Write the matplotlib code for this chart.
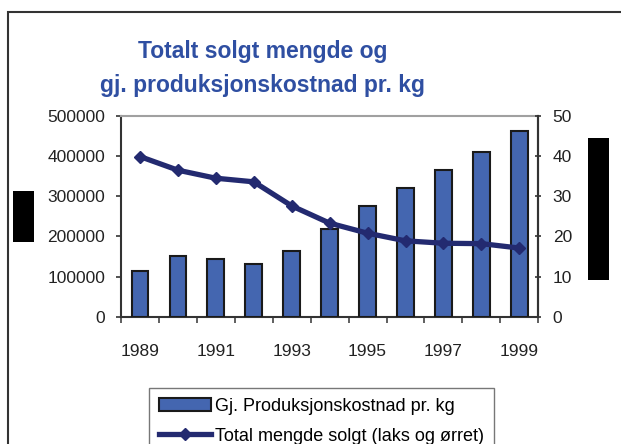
import matplotlib
matplotlib.use("Agg")
import matplotlib.pyplot as plt
from matplotlib.patches import Rectangle
from matplotlib.lines import Line2D
import numpy as np

plt.rcParams['font.family'] = ['Liberation Sans', 'DejaVu Sans']

# data
years = [1989, 1990, 1991, 1992, 1993, 1994, 1995, 1996, 1997, 1998, 1999]
bar_values = [114600, 151000, 144500, 131000, 164000, 217700,
              275700, 320600, 365000, 409500, 461800]
line_values = [39.9, 36.5, 34.5, 33.6, 27.6, 23.3, 20.8, 18.9, 18.3, 18.2, 17.1]
left_ticks = [0, 100000, 200000, 300000, 400000, 500000]
right_ticks = [0, 10, 20, 30, 40, 50]
bar_label = 'Gj. Produksjonskostnad pr. kg'
line_label = 'Total mengde solgt (laks og ørret)'

W, H = 621, 444
bar_color = '#4466b0'
line_color = '#232a70'
title_color = '#2f4fa2'

fig = plt.figure(figsize=(W / 100, H / 100), dpi=100)

# outer frame (cropped on right and bottom)
fig.add_artist(Rectangle((7.5 / W, -0.2), 1.5, 1 - 12 / H + 0.2,
                         transform=fig.transFigure, fill=False,
                         ec='#333333', lw=1.5, clip_on=False))

ax = fig.add_axes([121 / W, 1 - 316.7 / H, (538.3 - 121) / W, (316.7 - 116) / H])
x = np.arange(len(years))
ax.bar(x, bar_values, width=0.44, color=bar_color, edgecolor='#1a1a1a',
       lw=1.5, zorder=3)
ax.set_xlim(-0.5, len(years) - 0.5)
ax.set_ylim(0, 500000)
ax.set_yticks(left_ticks)
ax.set_yticklabels([str(v) for v in left_ticks], fontsize=12.5, color='#222222')
ax.tick_params(axis='y', direction='out', length=3.8, width=1.2,
               color='#333333', pad=7.7)

# x ticks at category boundaries, labels for odd years
ax.set_xticks(np.arange(-0.5, len(years), 1.0))
ax.set_xticklabels([])
ax.tick_params(axis='x', which='major', direction='out', length=4,
               width=1.2, color='#444444')
ax.set_xticks(x[::2], minor=True)
ax.set_xticklabels([str(y) for y in years[::2]], minor=True,
                   fontsize=12.5, color='#222222')
ax.tick_params(axis='x', which='minor', length=0, pad=20)

for s in ['left', 'right', 'bottom']:
    ax.spines[s].set_color('#333333')
    ax.spines[s].set_linewidth(1.5)
ax.spines['top'].set_color('#a0a0a0')
ax.spines['top'].set_linewidth(1.5)

ax2 = ax.twinx()
ax2.plot(x, line_values, color=line_color, lw=3.8, marker='D', ms=6.5,
         mfc=line_color, mec=line_color, zorder=4)
ax2.set_ylim(0, 50)
ax2.set_yticks(right_ticks)
ax2.set_yticklabels([str(v) for v in right_ticks], fontsize=12.5, color='#222222')
ax2.tick_params(axis='y', direction='inout', length=4.8, width=1.2,
                color='#333333', pad=8)
for s in ['left', 'top', 'bottom']:
    ax2.spines[s].set_visible(False)
ax2.spines['right'].set_color('#333333')
ax2.spines['right'].set_linewidth(1.5)

# title
fig.text(263 / W, 1 - 58 / H, 'Totalt solgt mengde og', ha='center',
         va='baseline', fontsize=16.5, fontweight='bold', color=title_color)
fig.text(263 / W, 1 - 92 / H, 'gj. produksjonskostnad pr. kg', ha='center',
         va='baseline', fontsize=16.5, fontweight='bold', color=title_color)

# legend
handles = [Rectangle((0, 0), 1, 1, fc=bar_color, ec='#1a1a1a', lw=1.5),
           Line2D([], [], color=line_color, lw=3.8, marker='D', ms=6.5)]
leg = fig.legend(handles, [bar_label, line_label], loc='upper left',
                 bbox_to_anchor=(149 / W, 1 - 388 / H), fontsize=13,
                 frameon=True, fancybox=False, handlelength=2.9,
                 handletextpad=0.2, labelspacing=0.7, borderpad=0.55,
                 borderaxespad=0)
leg.get_frame().set_edgecolor('#555555')
leg.get_frame().set_linewidth(1.0)

# black boxes
fig.add_artist(Rectangle((12.7 / W, 1 - 241.7 / H), 21.3 / W, 51 / H,
                         transform=fig.transFigure, fc='black', ec='none'))
fig.add_artist(Rectangle((588 / W, 1 - 280 / H), 21 / W, 142 / H,
                         transform=fig.transFigure, fc='black', ec='none'))

fig.savefig('out.png', dpi=100)
